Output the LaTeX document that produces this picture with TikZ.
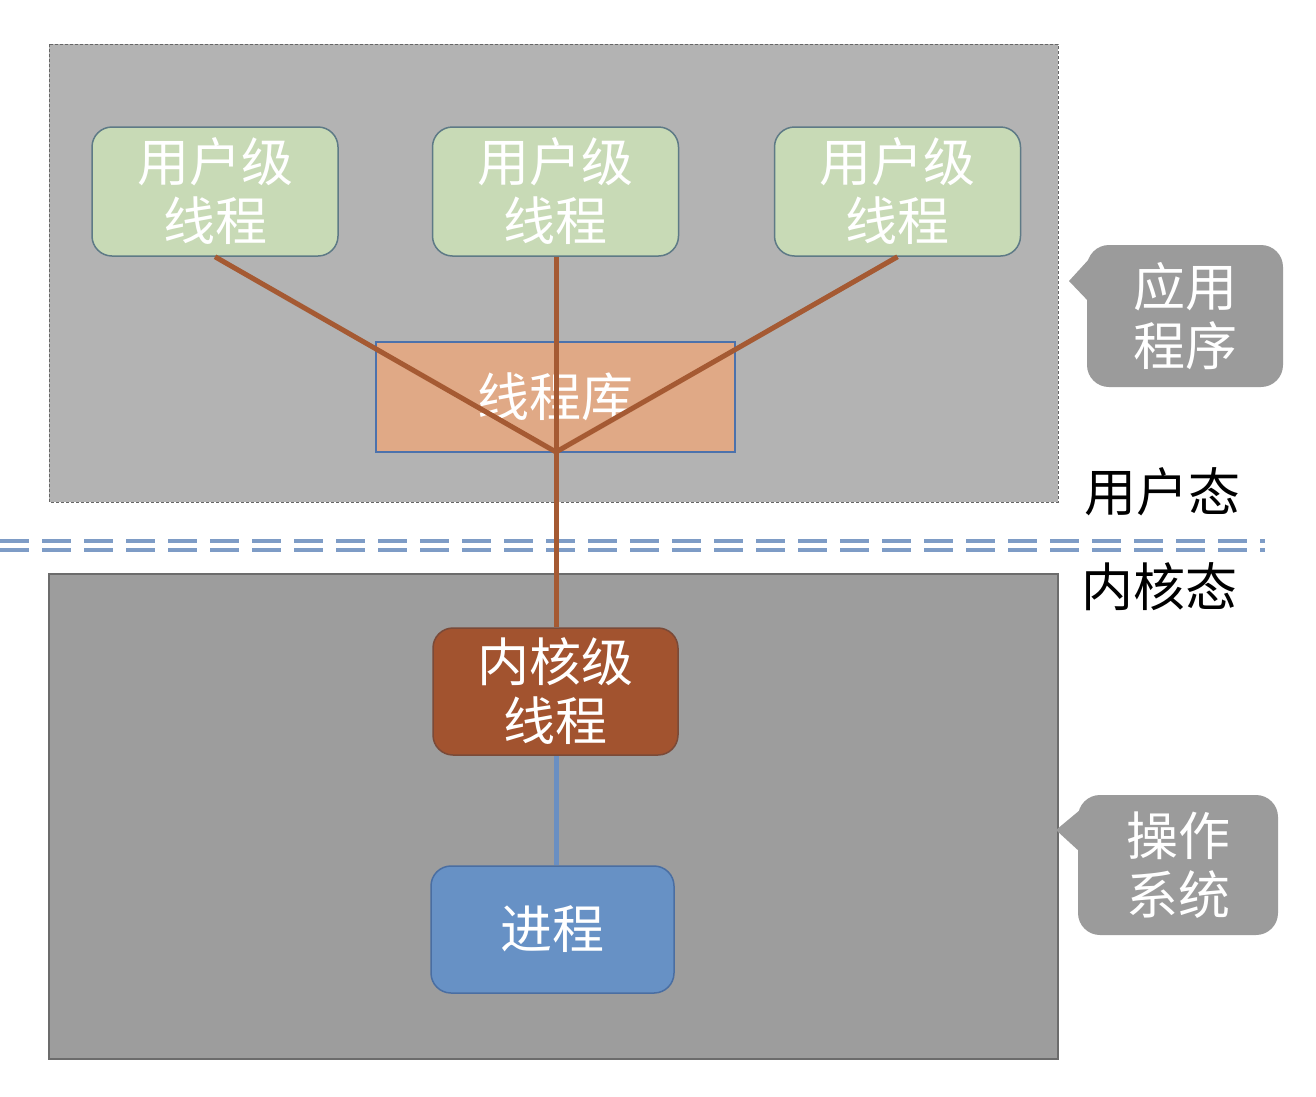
\documentclass[tikz,border=0pt]{standalone}
\usepackage{fontspec}
\setmainfont{Noto Sans CJK SC}
\newfontfamily\cjk{Noto Sans CJK SC}
\definecolor{topbg}{HTML}{B3B3B3}
\definecolor{botbg}{HTML}{9D9D9D}
\definecolor{ugreen}{HTML}{C8DAB6}
\definecolor{uborder}{HTML}{5E7A86}
\definecolor{libfill}{HTML}{E0A986}
\definecolor{libborder}{HTML}{4C72AC}
\definecolor{kfill}{HTML}{A2532F}
\definecolor{kborder}{HTML}{7A4A38}
\definecolor{pfill}{HTML}{6791C5}
\definecolor{pborder}{HTML}{4A6EA2}
\definecolor{brownline}{HTML}{A55A33}
\definecolor{blueline}{HTML}{6A8FC2}
\definecolor{dashblue}{HTML}{7E9CC6}
\definecolor{callgray}{HTML}{9B9B9B}
\begin{document}
\begin{tikzpicture}[x=1pt,y=-1pt,
  boxtext/.style={text=white,font=\cjk\fontsize{52}{59}\selectfont,align=center,inner sep=0pt},
  userbox/.style={boxtext,draw=uborder,line width=1.5pt,fill=ugreen,rounded corners=20pt,minimum width=246pt,minimum height=129pt},
  libbox/.style={boxtext,draw=libborder,line width=1.5pt,fill=libfill,minimum width=359pt,minimum height=110pt},
  kbox/.style={boxtext,draw=kborder,line width=1.5pt,fill=kfill,rounded corners=20pt,minimum width=245pt,minimum height=127pt},
  pbox/.style={boxtext,draw=pborder,line width=1.5pt,fill=pfill,rounded corners=20pt,minimum width=243pt,minimum height=127pt},
  callout/.style={boxtext,fill=callgray,rounded corners=22pt},
  statelabel/.style={text=black,font=\cjk\fontsize{52}{59}\selectfont,inner sep=0pt,anchor=west},
  brown/.style={draw=brownline,line width=5pt},
  bluecon/.style={draw=blueline,line width=5pt},
  dashsep/.style={draw=dashblue,line width=3.5pt,dash pattern=on 29pt off 13pt}
]
\useasboundingbox (0,0) rectangle (1316,1096);
\fill[white] (0,0) rectangle (1316,1096);
% regions
\path[fill=topbg,draw=gray!80!black,densely dashed,line width=1pt] (49,44) rectangle (1058,502);
\path[fill=botbg,draw=gray!85!black,line width=1.5pt] (49,574) rectangle (1058,1059);
% separator
\draw[dashsep] (0,541) -- (1265,541);
\draw[dashsep] (0,550) -- (1265,550);
% nodes
\node[userbox] (u1) at (215,191.5) {用户级\\线程};
\node[userbox] (u2) at (555.5,191.5) {用户级\\线程};
\node[userbox] (u3) at (897.5,191.5) {用户级\\线程};
\node[libbox] (lib) at (555.5,397) {线程库};
\node[kbox] (k) at (555.5,691.5) {内核级\\线程};
\node[pbox] (p) at (552.5,929.5) {进程};
\coordinate (j) at (556,452);
% connectors
\draw[brown] (u1.south) -- (j);
\draw[brown] (u3.south) -- (j);
\draw[brown] (u2.south -| j) -- (k.north -| j);
\draw[bluecon] (k.south -| j) -- (p.north -| j);
% state labels
\node[statelabel] (us) at (1084,492) {用户态};
\node[statelabel] (ks) at (1081,587) {内核态};
% callouts
\fill[callgray] (1090,258) -- (1069,281) -- (1090,303) -- cycle;
\node[callout,minimum width=196pt,minimum height=142pt] (app) at (1185,316) {应用\\程序};
\fill[callgray] (1080,810) -- (1056,830) -- (1080,852) -- cycle;
\node[callout,minimum width=200pt,minimum height=140pt] (os) at (1178,865) {操作\\系统};
\end{tikzpicture}
\end{document}
